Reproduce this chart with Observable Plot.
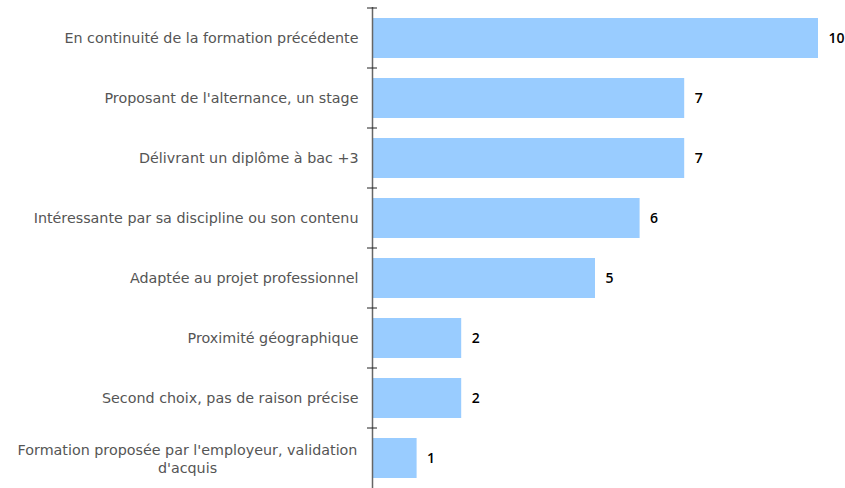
<!DOCTYPE html>
<html>
<head>
<meta charset="utf-8">
<script src="https://cdn.jsdelivr.net/npm/d3@7"></script>
<script src="https://cdn.jsdelivr.net/npm/@observablehq/plot@0.6"></script>
<style>
  html, body { margin: 0; padding: 0; background: #fff; }
  svg { display: block; }
</style>
</head>
<body>
<div id="chart"></div>
<script>
const categories = [
  "En continuité de la formation précédente",
  "Proposant de l'alternance, un stage",
  "Délivrant un diplôme à bac +3",
  "Intéressante par sa discipline ou son contenu",
  "Adaptée au projet professionnel",
  "Proximité géographique",
  "Second choix, pas de raison précise",
  "Formation proposée par l'employeur, validation\nd'acquis"
];
const values = [10, 7, 7, 6, 5, 2, 2, 1];

const data = categories.map((c, i) => ({category: c, value: values[i]}));
const singleLine = data.filter(d => !d.category.includes("\n"));
const multiLine = data.filter(d => d.category.includes("\n"));

const font = "'DejaVu Sans', sans-serif";

const boundaryTicks = (index, scales, values, dims) => {
  const g = d3.create("svg:g");
  const x0 = scales.x(0);
  for (const c of categories) {
    const yy = scales.y(c);
    g.append("line")
      .attr("x1", x0 - 5).attr("x2", x0 + 5)
      .attr("y1", yy).attr("y2", yy)
      .attr("stroke", "#222").attr("stroke-width", 1);
  }
  return g.node();
};

const chart = Plot.plot({
  width: 845,
  height: 488,
  marginLeft: 372,
  marginRight: 27,
  marginTop: 7,
  marginBottom: 0,
  style: {fontFamily: font, background: "#fff"},
  x: {domain: [0, 10], axis: null},
  y: {domain: categories, padding: 0, axis: null},
  marks: [
    Plot.barX(data, {x: "value", y: "category", fill: "#99ccff", insetTop: 10, insetBottom: 10}),
    Plot.text(data, {x: "value", y: "category", text: d => String(d.value), textAnchor: "start", dx: 10, fill: "#000", fontSize: 14, fontWeight: 600, fontFamily: "'Open Sans', sans-serif"}),
    Plot.text(singleLine, {x: 0, y: "category", text: "category", textAnchor: "end", dx: -14, fill: "#555", fontSize: 14.3}),
    Plot.text(multiLine, {x: 0, y: "category", text: "category", textAnchor: "middle", dx: -185, fill: "#555", fontSize: 14.3, lineHeight: 1.2}),
    Plot.ruleX([0], {stroke: "#666", strokeWidth: 1.5}),
    boundaryTicks
  ]
});
document.getElementById("chart").appendChild(chart);
</script>
</body>
</html>
